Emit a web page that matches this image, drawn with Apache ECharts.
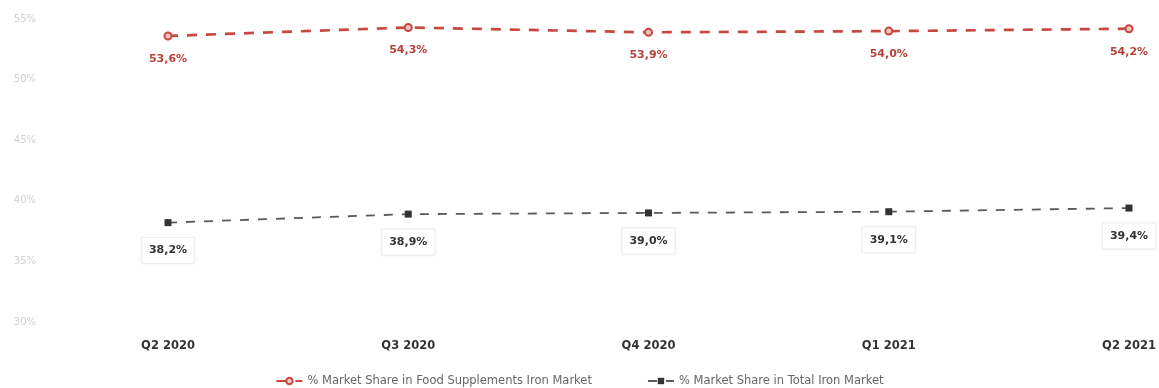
<!DOCTYPE html>
<html><head><meta charset="utf-8">
<script src="https://cdn.jsdelivr.net/npm/echarts@6/dist/echarts.min.js"></script>
<style>html,body{margin:0;padding:0;background:#fff}#c{width:1159px;height:388px}</style>
</head><body><div id="c"></div>
<script>
const categories = ["Q2 2020","Q3 2020","Q4 2020","Q1 2021","Q2 2021"];
const foodSupplements = [53.6, 54.3, 53.9, 54.0, 54.2];
const totalIron = [38.2, 38.9, 39.0, 39.1, 39.4];
const seriesNames = ["% Market Share in Food Supplements Iron Market", "% Market Share in Total Iron Market"];
const fmt = v => v.toFixed(1).replace('.', ',') + '%';

const chart = echarts.init(document.getElementById('c'));
chart.setOption({
  animation: false,
  grid: {left: 168, right: 30, top: 19, bottom: 66},
  xAxis: {
    type: 'category', data: categories, boundaryGap: false,
    axisLine: {show: false}, axisTick: {show: false},
    axisLabel: {color: '#333', fontFamily: 'DejaVu Sans', fontWeight: 'bold', fontSize: 11.5, margin: 18}
  },
  yAxis: {
    type: 'value', min: 30, max: 55, interval: 5,
    axisLabel: {formatter: v => v + '%', color: '#cfcfcf', fontSize: 10, fontFamily: 'DejaVu Sans', margin: 132},
    splitLine: {show: false}, axisLine: {show: false}, axisTick: {show: false}
  },
  legend: {
    top: 370, left: 'center', itemGap: 55, itemWidth: 26, itemHeight: 8,
    textStyle: {color: '#666', fontFamily: 'DejaVu Sans', fontSize: 11.5},
    data: seriesNames
  },
  series: [
    {
      name: seriesNames[0], type: 'line', data: foodSupplements,
      symbol: 'circle', symbolSize: 7,
      itemStyle: {color: '#f2c4bf', borderColor: '#c8473f', borderWidth: 2},
      lineStyle: {color: '#c8473f', width: 2.7, type: [10, 9]},
      label: {show: true, position: 'bottom', distance: 13, formatter: p => fmt(p.value),
        color: '#b8403a', fontWeight: 'bold', fontFamily: 'DejaVu Sans', fontSize: 11}
    },
    {
      name: seriesNames[1], type: 'line', data: totalIron,
      symbol: 'rect', symbolSize: 7,
      itemStyle: {color: '#333'},
      lineStyle: {color: '#5a5a5a', width: 1.8, type: [9, 9]},
      label: {show: true, position: 'bottom', distance: 12, formatter: p => fmt(p.value),
        color: '#333', fontWeight: 'bold', fontFamily: 'DejaVu Sans', fontSize: 11,
        backgroundColor: '#fff', borderColor: '#f0f0f0', borderWidth: 1, padding: [7, 7],
        shadowColor: 'rgba(0,0,0,0.06)', shadowBlur: 3}
    }
  ]
});
</script></body></html>
